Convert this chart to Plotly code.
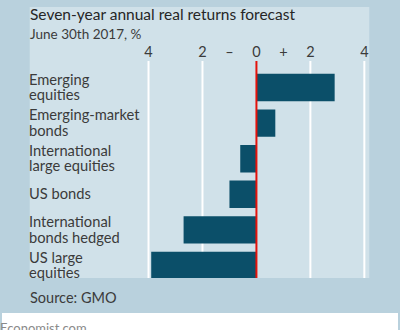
import plotly.graph_objects as go

# Data: GMO seven-year annual real return forecasts, %
categories = [
    "Emerging<br>equities",
    "Emerging-market<br>bonds",
    "International<br>large equities",
    "US bonds",
    "International<br>bonds hedged",
    "US large<br>equities",
]
returns = [2.9, 0.7, -0.6, -1.0, -2.7, -3.9]
tick_vals = [-4, -2, -1, 0, 1, 2, 4]
tick_text = ["4", "2", "–", "0", "+", "2", "4"]
grid_vals = [-4, -2, 2, 4]

W, H = 400, 330
FONT = "Lato"
TEXT = "#3b3b3b"
OUTER = "#b9d1dd"
INNER = "#d0e1e9"
BAR = "#0b4f69"
RED = "#e3120b"
LEFT = 26  # left edge for text, px

# plot-area placement in pixels
px_left, px_right = 146, 368
px_top, px_bottom = 61, 278
unit = 27.25  # pixels per percentage point
x_range = [-(257 - px_left) / unit, (px_right - 257) / unit]
pitch = 35.6
y_top = (px_top - 87.5) / pitch
y_bot = (px_bottom - 87.5) / pitch

ypos = list(range(len(categories)))

fig = go.Figure()
fig.add_trace(go.Bar(
    x=returns, y=ypos, orientation="h",
    marker=dict(color=BAR, line=dict(width=0)),
    width=0.77, hoverinfo="skip",
))

shapes = [
    # inner panel
    dict(type="rect", xref="paper", yref="paper", x0=28 / W, x1=371 / W,
         y0=1 - 278 / H, y1=1 - 7 / H, fillcolor=INNER, line_width=0, layer="below"),
    # white footer strip
    dict(type="rect", xref="paper", yref="paper", x0=0, x1=1,
         y0=0, y1=1 - 313 / H, fillcolor="white", line_width=0, layer="below"),
]
for g in grid_vals:
    shapes.append(dict(type="line", xref="x", yref="y domain", x0=g, x1=g, y0=0, y1=1,
                       line=dict(color="white", width=2), layer="below"))
shapes.append(dict(type="line", xref="x", yref="y domain", x0=0, x1=0, y0=0, y1=1,
                   line=dict(color=RED, width=2), layer="above"))

annotations = [
    dict(text="Seven-year annual real returns forecast", x=LEFT / W, y=1 - 14 / H,
         xref="paper", yref="paper", xanchor="left", yanchor="middle", showarrow=False,
         font=dict(family=FONT, size=15.5, color="#262626")),
    dict(text="June 30th 2017, %", x=LEFT / W, y=1 - 34 / H,
         xref="paper", yref="paper", xanchor="left", yanchor="middle", showarrow=False,
         font=dict(family=FONT, size=13.5, color=TEXT)),
    dict(text="Source: GMO", x=LEFT / W, y=1 - 297 / H,
         xref="paper", yref="paper", xanchor="left", yanchor="middle", showarrow=False,
         font=dict(family=FONT, size=14.5, color=TEXT)),
    dict(text="Economist.com", x=-4 / W, y=1 - 328 / H,
         xref="paper", yref="paper", xanchor="left", yanchor="middle", showarrow=False,
         font=dict(family=FONT, size=13, color="#8a8a8a")),
]

# category labels, each line placed separately for tight leading
line_gap = 15.5
for i, lab in enumerate(categories):
    lines = lab.split("<br>")
    n = len(lines)
    for k, ln in enumerate(lines):
        shift = ((n - 1) / 2 - k) * line_gap + 1
        annotations.append(dict(
            text=ln, x=LEFT / W, y=i, xref="paper", yref="y",
            xanchor="left", yanchor="middle", yshift=shift, showarrow=False,
            borderpad=0,
            font=dict(family=FONT, size=14.7, color=TEXT)))

fig.update_layout(
    width=W, height=H,
    margin=dict(l=0, r=0, t=0, b=0),
    paper_bgcolor=OUTER,
    plot_bgcolor="rgba(0,0,0,0)",
    showlegend=False,
    shapes=shapes,
    annotations=annotations,
    xaxis=dict(
        domain=[px_left / W, px_right / W], range=x_range, side="top",
        tickvals=tick_vals, ticktext=tick_text, ticks="", showgrid=False,
        zeroline=False, showline=False, fixedrange=True, ticklabelstandoff=0,
        tickfont=dict(family=FONT, size=14.5, color=TEXT),
    ),
    yaxis=dict(
        domain=[1 - px_bottom / H, 1 - px_top / H], range=[y_bot, y_top],
        showticklabels=False, showgrid=False, zeroline=False, ticks="",
        fixedrange=True,
    ),
)

fig.write_html("out.html")
